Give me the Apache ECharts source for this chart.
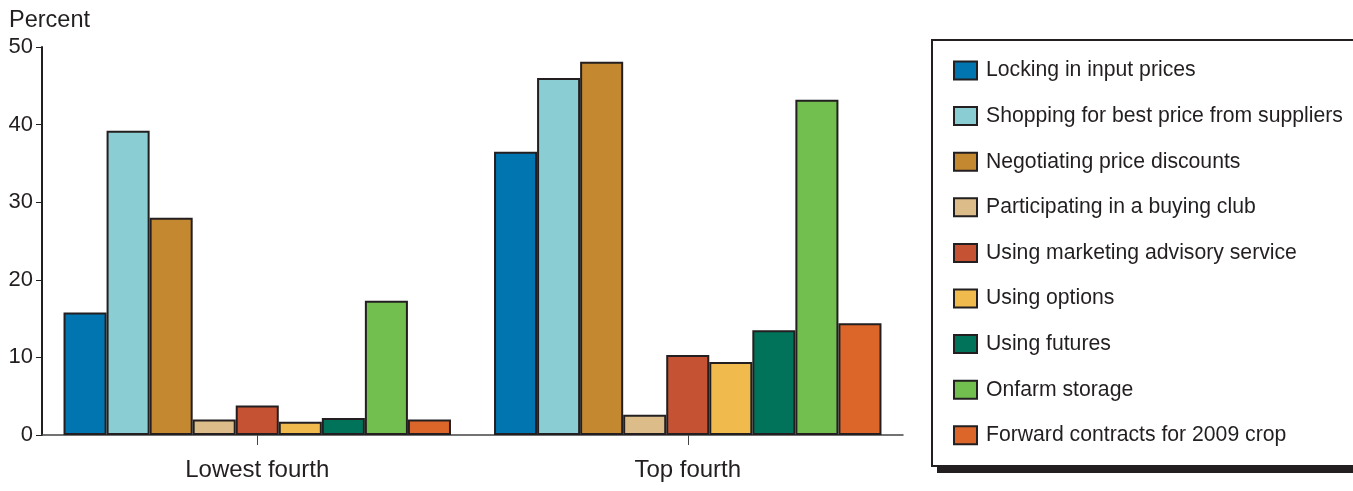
<!DOCTYPE html>
<html><head><meta charset="utf-8">
<script src="https://cdn.jsdelivr.net/npm/echarts@6/dist/echarts.min.js"></script>
<style>html,body{margin:0;padding:0;background:#fff}#c{width:1353px;height:491px}</style>
</head><body><div id="c"></div>
<script>
const categories = ['Lowest fourth', 'Top fourth'];
const seriesNames = [
  'Locking in input prices',
  'Shopping for best price from suppliers',
  'Negotiating price discounts',
  'Participating in a buying club',
  'Using marketing advisory service',
  'Using options',
  'Using futures',
  'Onfarm storage',
  'Forward contracts for 2009 crop'
];
const lockingInput = [15.8, 36.5];
const shopping = [39.2, 46.0];
const negotiating = [28.0, 48.1];
const buyingClub = [2.0, 2.6];
const advisory = [3.8, 10.3];
const options = [1.7, 9.4];
const futures = [2.2, 13.5];
const onfarm = [17.3, 43.2];
const forward = [2.0, 14.4];
const yTicks = [0, 10, 20, 30, 40, 50];
const colors = ['#0075b0', '#8acdd3', '#c48930', '#dcbc88', '#c45233', '#f0ba4d', '#00735a', '#72bf4f', '#dc6629'];
const values = [lockingInput, shopping, negotiating, buyingClub, advisory, options, futures, onfarm, forward];

const font = '"Liberation Sans", Arial, Helvetica, sans-serif';
const chart = echarts.init(document.getElementById('c'));
chart.setOption({
  animation: false,
  backgroundColor: '#fff',
  textStyle: { fontFamily: font, color: '#231f20' },
  title: { text: 'Percent', left: 4, top: 4, textStyle: { fontFamily: font, fontSize: 23.5, fontWeight: 'normal', color: '#231f20' } },
  graphic: [
    { type: 'rect', z: 0, shape: { x: 937, y: 45, width: 430, height: 428 }, style: { fill: '#231f20' } },
    { type: 'rect', z: 1, shape: { x: 932, y: 40, width: 430, height: 426 }, style: { fill: '#fff', stroke: '#231f20', lineWidth: 2 } }
  ],
  legend: {
    orient: 'vertical', left: 953, top: 60, itemWidth: 23, itemHeight: 18, itemGap: 24.6,
    padding: 0, icon: 'rect', z: 10,
    textStyle: { fontFamily: font, fontSize: 21.2, color: '#231f20', padding: [0, 0, 0, 4] },
    data: seriesNames
  },
  grid: { left: 42, right: 450, top: 47, bottom: 56 },
  xAxis: {
    type: 'category', data: categories,
    axisLine: { lineStyle: { color: '#444', width: 1.5 } },
    axisTick: { show: true, alignWithLabel: true, length: 10, lineStyle: { color: '#444', width: 1 } },
    axisLabel: { fontFamily: font, fontSize: 24, color: '#231f20', margin: 23 }
  },
  yAxis: {
    type: 'value', min: 0, max: 50, interval: 10,
    axisLine: { show: true, lineStyle: { color: '#231f20', width: 2 } },
    axisTick: { show: true, length: 6, lineStyle: { color: '#231f20', width: 1 } },
    splitLine: { show: false },
    axisLabel: { fontFamily: font, fontSize: 22, color: '#231f20', margin: 9, padding: [4, 0, 0, 0],
      formatter: v => yTicks.includes(v) ? String(v) : '' }
  },
  series: seriesNames.map((n, i) => ({
    name: n, type: 'bar', data: values[i], barGap: '0%', barCategoryGap: '10%',
    itemStyle: { color: colors[i], borderColor: '#231f20', borderWidth: 2 }
  }))
});
</script></body></html>
